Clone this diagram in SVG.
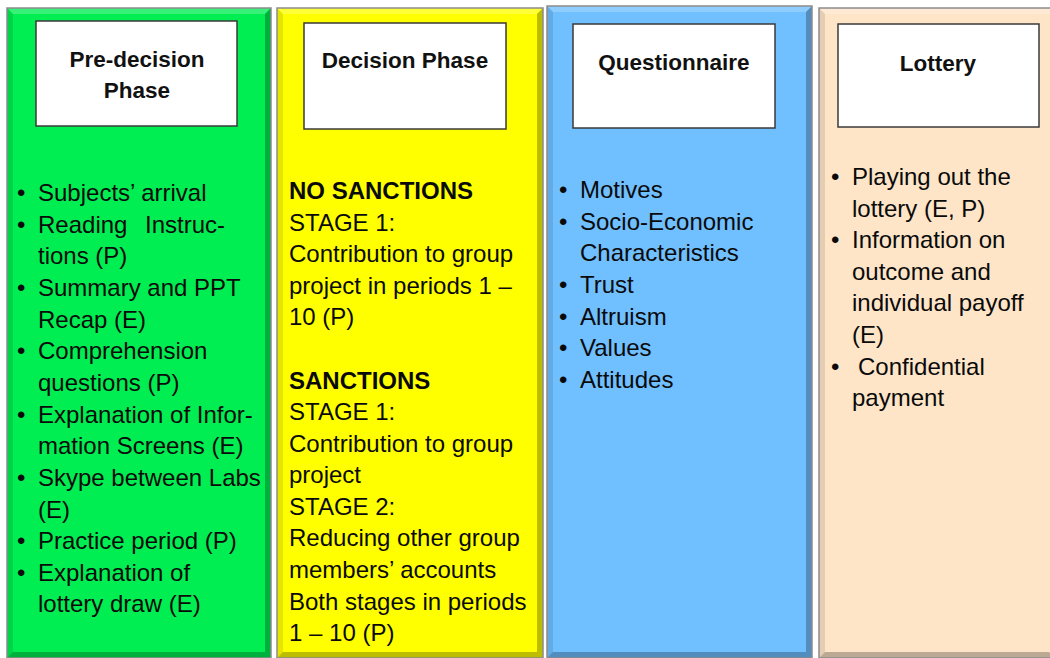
<svg xmlns="http://www.w3.org/2000/svg" width="1050" height="658" viewBox="0 0 1050 658">
  <style>
    .body { font-family: "Liberation Sans", Arial, sans-serif; font-size: 24px; fill: #0a0a0a; }
    .bold { font-weight: bold; }
    .title { font-family: "Liberation Sans", Arial, sans-serif; font-size: 22.5px; font-weight: bold; fill: #111; text-anchor: middle; }
    .hbox { fill: #ffffff; stroke: #3a3a3a; stroke-width: 1.5; }
    .edge { fill: none; stroke: #8c8c8c; stroke-width: 1.5; }
    .lite { fill: #ffffff; fill-opacity: 0.22; }
    .dark { fill: #000000; fill-opacity: 0.26; }
    .side { fill: #000000; fill-opacity: 0.1; }
  </style>
  <rect width="1050" height="658" fill="#ffffff"/>

  <!-- Pre-decision column -->
  <g id="pre-decision">
    <rect x="7" y="8" width="264" height="650" fill="#00ee52"/>
    <polygon class="lite" points="7,8 271,8 265,14 13,14"/>
    <polygon class="side" points="7,8 13,14 13,652 7,658"/>
    <polygon class="dark" points="271,8 271,658 265,652 265,14"/>
    <polygon class="dark" points="7,658 271,658 265,652 13,652"/>
    <rect class="edge" x="7" y="8" width="264" height="650"/>
    <rect class="hbox" x="36" y="21" width="201" height="105"/>
    <text class="title" x="137" y="67">Pre-decision</text>
    <text class="title" x="137" y="98">Phase</text>
    <g class="body">
      <text x="17" y="201">•</text><text x="38" y="201">Subjects’ arrival</text>
      <text x="17" y="233">•</text><text x="38" y="233">Reading</text><text x="225" y="233" text-anchor="end">Instruc-</text>
      <text x="38" y="264">tions (P)</text>
      <text x="17" y="296">•</text><text x="38" y="296">Summary and PPT</text>
      <text x="38" y="328">Recap (E)</text>
      <text x="17" y="359">•</text><text x="38" y="359">Comprehension</text>
      <text x="38" y="391">questions (P)</text>
      <text x="17" y="423">•</text><text x="38" y="423">Explanation of Infor-</text>
      <text x="38" y="454">mation Screens (E)</text>
      <text x="17" y="486">•</text><text x="38" y="486">Skype between Labs</text>
      <text x="38" y="518">(E)</text>
      <text x="17" y="549">•</text><text x="38" y="549">Practice period (P)</text>
      <text x="17" y="581">•</text><text x="38" y="581">Explanation of</text>
      <text x="38" y="612">lottery draw (E)</text>
    </g>
  </g>

  <!-- Decision column -->
  <g id="decision">
    <rect x="277" y="8" width="266" height="650" fill="#ffff00"/>
    <polygon class="lite" points="277,8 543,8 537,14 283,14"/>
    <polygon class="side" points="277,8 283,14 283,652 277,658"/>
    <polygon class="dark" points="543,8 543,658 537,652 537,14"/>
    <polygon class="dark" points="277,658 543,658 537,652 283,652"/>
    <rect class="edge" x="277" y="8" width="266" height="650"/>
    <rect class="hbox" x="304" y="23" width="202" height="106"/>
    <text class="title" x="405" y="68">Decision Phase</text>
    <g class="body">
      <text class="bold" x="289" y="199">NO SANCTIONS</text>
      <text x="289" y="231">STAGE 1:</text>
      <text x="289" y="262">Contribution to group</text>
      <text x="289" y="294">project in periods 1 –</text>
      <text x="289" y="325">10 (P)</text>
      <text class="bold" x="289" y="389">SANCTIONS</text>
      <text x="289" y="420">STAGE 1:</text>
      <text x="289" y="452">Contribution to group</text>
      <text x="289" y="483">project</text>
      <text x="289" y="515">STAGE 2:</text>
      <text x="289" y="546">Reducing other group</text>
      <text x="289" y="578">members’ accounts</text>
      <text x="289" y="610">Both stages in periods</text>
      <text x="289" y="641">1 – 10 (P)</text>
    </g>
  </g>

  <!-- Questionnaire column -->
  <g id="questionnaire">
    <rect x="547" y="6" width="265" height="652" fill="#70bfff"/>
    <polygon class="lite" points="547,6 812,6 806,12 553,12"/>
    <polygon class="side" points="547,6 553,12 553,652 547,658"/>
    <polygon class="dark" points="812,6 812,658 806,652 806,12"/>
    <polygon class="dark" points="547,658 812,658 806,652 553,652"/>
    <rect class="edge" x="547" y="6" width="265" height="652"/>
    <rect class="hbox" x="573" y="24" width="202" height="104"/>
    <text class="title" x="674" y="70">Questionnaire</text>
    <g class="body">
      <text x="559" y="198">•</text><text x="580" y="198">Motives</text>
      <text x="559" y="230">•</text><text x="580" y="230">Socio-Economic</text>
      <text x="580" y="261">Characteristics</text>
      <text x="559" y="293">•</text><text x="580" y="293">Trust</text>
      <text x="559" y="325">•</text><text x="580" y="325">Altruism</text>
      <text x="559" y="356">•</text><text x="580" y="356">Values</text>
      <text x="559" y="388">•</text><text x="580" y="388">Attitudes</text>
    </g>
  </g>

  <!-- Lottery column -->
  <g id="lottery">
    <rect x="819" y="8" width="236" height="650" fill="#fee5c8"/>
    <polygon class="lite" points="819,8 1055,8 1049,14 825,14"/>
    <polygon class="side" points="819,8 825,14 825,652 819,658"/>
    <polygon class="dark" points="819,658 1055,658 1049,652 825,652"/>
    <rect class="edge" x="819" y="8" width="236" height="650"/>
    <rect class="hbox" x="838" y="24" width="201" height="103"/>
    <text class="title" x="938" y="71">Lottery</text>
    <g class="body">
      <text x="831" y="185">•</text><text x="852" y="185">Playing out the</text>
      <text x="852" y="217">lottery (E, P)</text>
      <text x="831" y="248">•</text><text x="852" y="248">Information on</text>
      <text x="852" y="280">outcome and</text>
      <text x="852" y="311">individual payoff</text>
      <text x="852" y="343">(E)</text>
      <text x="831" y="375">•</text><text x="858" y="375">Confidential</text>
      <text x="852" y="406">payment</text>
    </g>
  </g>
</svg>
